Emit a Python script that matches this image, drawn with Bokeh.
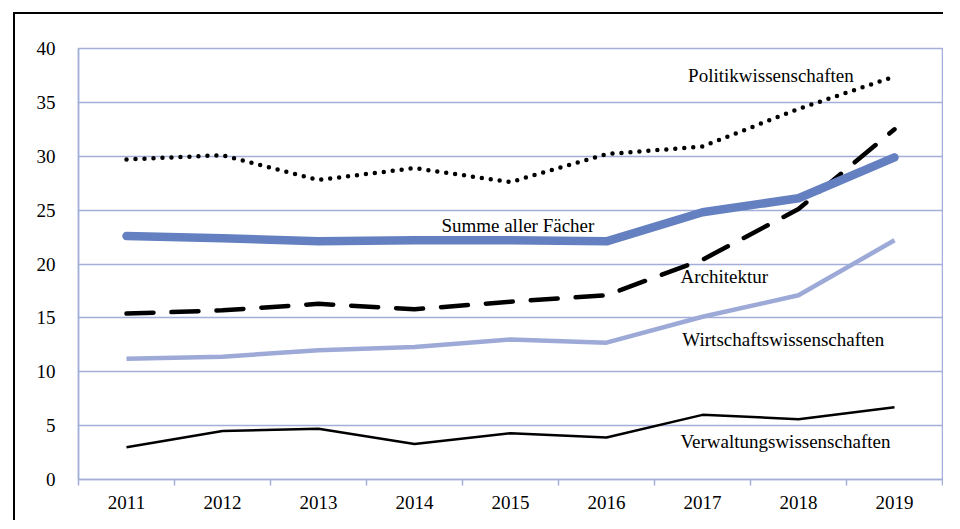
from bokeh.plotting import figure
from bokeh.models import FixedTicker, Range1d, ColumnDataSource
from bokeh.core.properties import value
from bokeh.embed import file_html
from bokeh.resources import INLINE

years = ["2011", "2012", "2013", "2014", "2015", "2016", "2017", "2018", "2019"]
summe = [22.6, 22.4, 22.1, 22.2, 22.2, 22.1, 24.8, 26.1, 29.9]
politik = [29.7, 30.1, 27.8, 28.9, 27.6, 30.2, 30.9, 34.4, 37.4]
architektur = [15.4, 15.7, 16.3, 15.8, 16.5, 17.1, 20.4, 25.1, 32.5]
wirtschaft = [11.2, 11.4, 12.0, 12.3, 13.0, 12.7, 15.1, 17.1, 22.2]
verwaltung = [3.0, 4.5, 4.7, 3.3, 4.3, 3.9, 6.0, 5.6, 6.7]

label_texts = ["Politikwissenschaften", "Summe aller Fächer", "Architektur",
               "Wirtschaftswissenschaften", "Verwaltungswissenschaften"]
label_x = [6.35, 3.78, 6.27, 6.29, 6.27]
label_y = [37.5, 23.6, 18.8, 13.0, 3.5]

y_ticks = [0, 5, 10, 15, 20, 25, 30, 35, 40]

FONT = "Liberation Serif"
GRID = "#A3AED9"

xs = [i + 0.5 for i in range(len(years))]

p = figure(width=930, height=508, output_backend="svg", toolbar_location=None,
           x_range=Range1d(0, len(years)), y_range=Range1d(0, 40),
           min_border_left=63, min_border_right=3, min_border_top=34, min_border_bottom=43)
p.margin = (12, 0, 0, 13)
p.styles = {"border-top": "2px solid black", "border-left": "2px solid black"}

p.outline_line_color = GRID
p.outline_line_width = 1.5
p.background_fill_color = "white"
p.border_fill_color = "white"

# x axis
p.xaxis.ticker = FixedTicker(ticks=xs, minor_ticks=list(range(len(years) + 1)))
p.xaxis.major_label_overrides = {x: y for x, y in zip(xs, years)}
p.xaxis.major_tick_line_color = None
p.xaxis.minor_tick_line_color = GRID
p.xaxis.minor_tick_line_width = 1.5
p.xaxis.minor_tick_out = 6
p.xaxis.minor_tick_in = 0
p.xaxis.axis_line_color = GRID
p.xaxis.axis_line_width = 1.5
p.xaxis.major_label_text_font = FONT
p.xaxis.major_label_text_font_style = "normal"
p.xaxis.major_label_text_font_size = "19px"
p.xaxis.major_label_text_color = "black"
p.xaxis.major_label_standoff = 10
p.xgrid.grid_line_color = None

# y axis
p.yaxis.ticker = FixedTicker(ticks=y_ticks)
p.yaxis.major_tick_line_color = None
p.yaxis.minor_tick_line_color = None
p.yaxis.axis_line_color = GRID
p.yaxis.axis_line_width = 1.5
p.yaxis.major_label_text_font = FONT
p.yaxis.major_label_text_font_style = "normal"
p.yaxis.major_label_text_font_size = "19px"
p.yaxis.major_label_text_color = "black"
p.yaxis.major_label_standoff = 17
p.ygrid.grid_line_color = GRID
p.ygrid.grid_line_width = 1.5

# series
p.line(xs, politik, line_color="black", line_width=4.5, line_dash="0 9", line_cap="round")
p.line(xs, architektur, line_color="black", line_width=4.5, line_dash="27 18", line_cap="round")
p.line(xs, wirtschaft, line_color="#9DAAD7", line_width=4.5, line_join="round")
p.line(xs, verwaltung, line_color="black", line_width=2.5, line_join="round")
p.line(xs, summe, line_color="#6480C0", line_width=8.5, line_cap="round", line_join="round")

src = ColumnDataSource(dict(x=label_x, y=label_y, t=label_texts))
p.text(x="x", y="y", text="t", source=src, text_font=value(FONT), text_font_size="19px",
       text_align="left", text_baseline="middle", text_color="black")

open("out.html", "w").write(file_html(p, INLINE))
